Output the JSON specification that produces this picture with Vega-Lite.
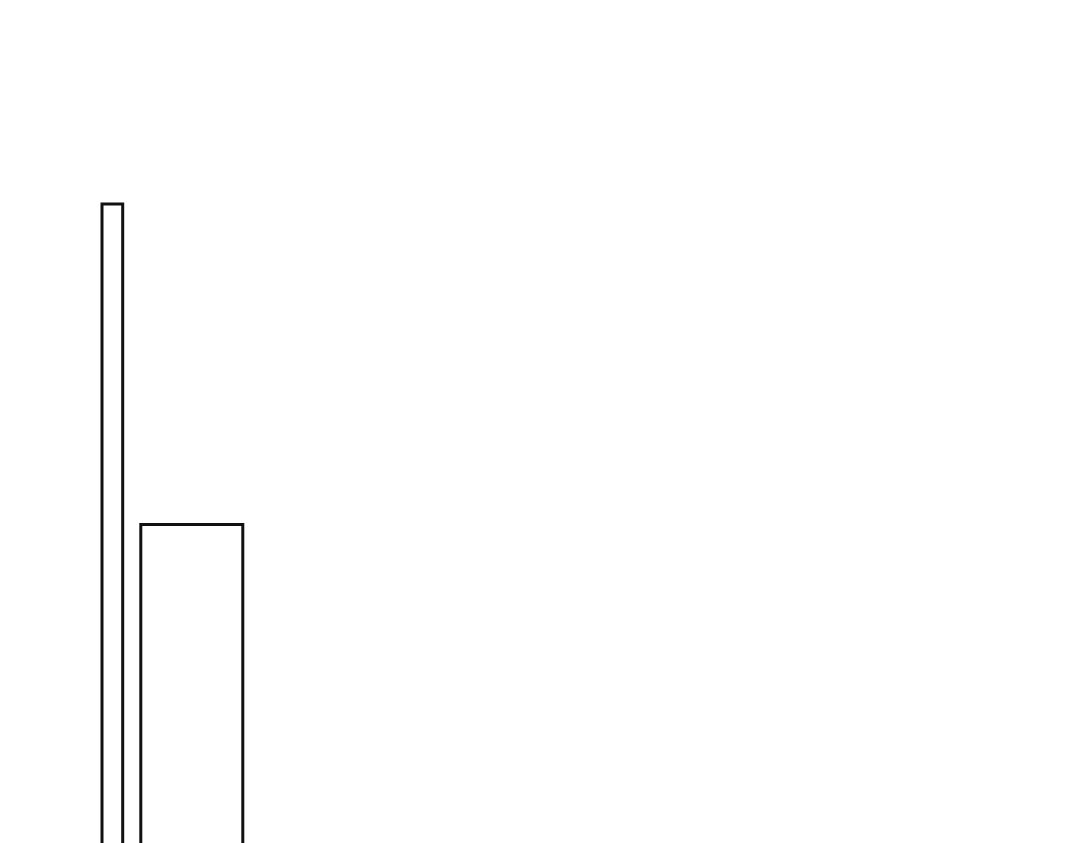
{
  "$schema": "https://vega.github.io/schema/vega-lite/v6.json",
  "autosize": {"type": "fit", "contains": "padding"},
  "width": 1080,
  "height": 843,
  "padding": 0,
  "background": "white",
  "config": {"view": {"stroke": null}},
  "data": {"values": [
    {"x0": 10.2, "x1": 12.27, "top": 75.8, "bottom": -5},
    {"x0": 14.08, "x1": 24.28, "top": 37.78, "bottom": -5}
  ]},
  "mark": {"type": "rect", "fill": null, "stroke": "#111111", "strokeWidth": 3, "clip": true},
  "encoding": {
    "x": {"field": "x0", "type": "quantitative", "scale": {"domain": [0, 108], "nice": false, "zero": false}, "axis": null},
    "x2": {"field": "x1"},
    "y": {"field": "top", "type": "quantitative", "scale": {"domain": [0, 100], "nice": false, "zero": false}, "axis": null},
    "y2": {"field": "bottom"}
  }
}
